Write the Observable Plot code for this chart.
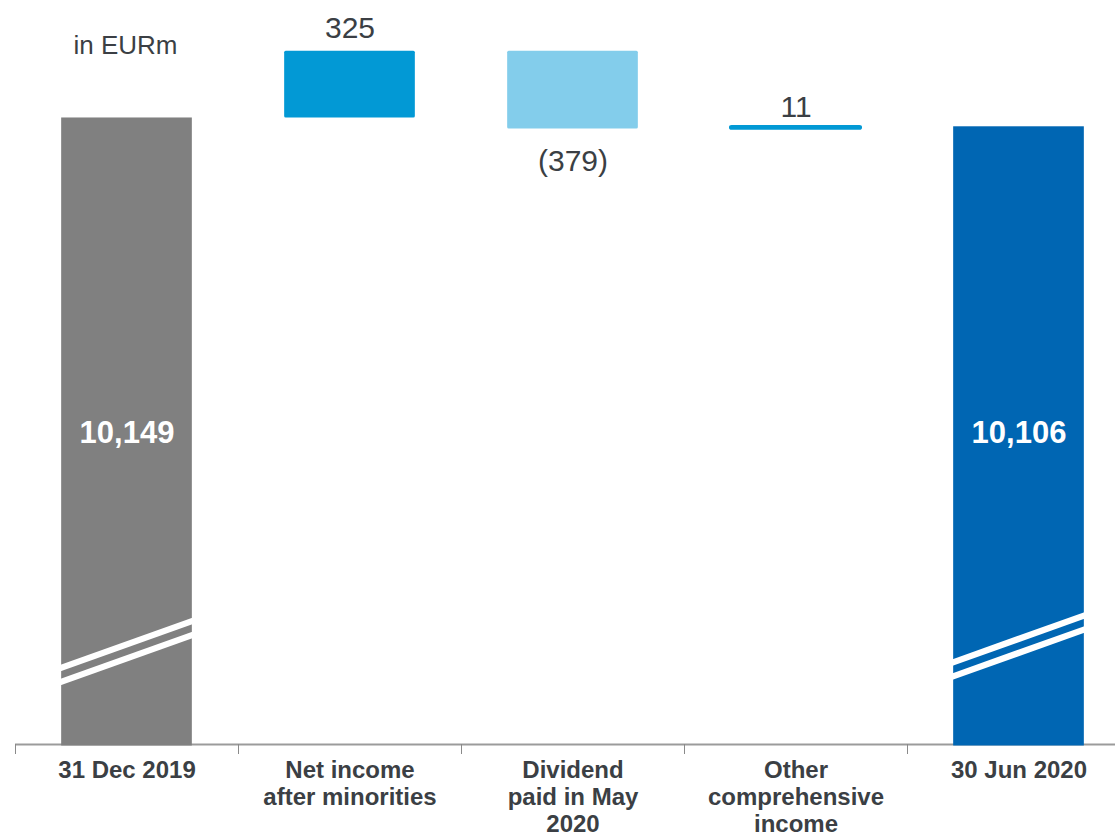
<!DOCTYPE html>
<html>
<head>
<meta charset="utf-8">
<script src="https://cdn.jsdelivr.net/npm/d3@7"></script>
<script src="https://cdn.jsdelivr.net/npm/@observablehq/plot@0.6"></script>
<style>
  html, body { margin: 0; padding: 0; background: #ffffff; }
  #chart svg { display: block; }
</style>
</head>
<body>
<div id="chart"></div>
<script>
// ---- data ----
const categories = ["31 Dec 2019", "Net income\nafter minorities", "Dividend\npaid in May\n2020", "Other\ncomprehensive\nincome", "30 Jun 2020"];
const values = [10149, 325, -379, 11, 10106];
const kinds = ["total", "delta", "delta", "delta", "total"];
const valueLabels = ["10,149", "325", "(379)", "11", "10,106"];
const colors = ["#808080", "#0299d5", "#83cdeb", "#0299d5", "#0066b3"];
const unitLabel = "in EURm";

// ---- waterfall build ----
const axisBase = 7093;   // value at the (broken) baseline
const axisTop = 10722;
let running = 0;
const rows = categories.map((c, i) => {
  let start, end;
  if (kinds[i] === "total") {
    running = values[i];
    start = axisBase; end = values[i];
  } else {
    start = running; end = running + values[i];
    running = end;
  }
  return {i, cat: c, kind: kinds[i], value: values[i], start, end,
          lo: Math.min(start, end), hi: Math.max(start, end),
          label: valueLabels[i], color: colors[i]};
});
const totals = rows.filter(d => d.kind === "total");
const deltas = rows.filter(d => d.kind === "delta");
const hw = 0.293;
const boundaries = d3.range(categories.length + 1).map(k => k - 0.5);
const textColor = "#3b3f44";
const labelMid = (axisBase + rows[0].hi) / 2;

// axis-break stripes drawn over the total bars
function breakMarks(index, scales) {
  const g = d3.create("svg:g");
  const offsets = {0: 76, 4: 81.5};
  totals.forEach(d => {
    const L = scales.x(d.i - hw), R = scales.x(d.i + hw);
    const yb = scales.y(axisBase);
    for (const off of [0, 14]) {
      const yl = yb - offsets[d.i] + off;
      const yr = yl - 0.36 * (R - L);
      g.append("polygon")
        .attr("points", `${L - 0.5},${yl - 3.3} ${R + 0.5},${yr - 3.3} ${R + 0.5},${yr + 3.3} ${L - 0.5},${yl + 3.3}`)
        .attr("fill", "#ffffff");
    }
  });
  return g.node();
}

const chart = Plot.plot({
  width: 1115,
  height: 837,
  marginTop: 0,
  marginLeft: 15,
  marginRight: 0,
  marginBottom: 93,
  style: {fontFamily: "'Liberation Sans', Arial, sans-serif", background: "#ffffff"},
  x: {type: "linear", domain: [-0.5, categories.length - 0.5], range: [15, 15 + 223 * categories.length], axis: null, label: null},
  y: {domain: [axisBase, axisTop], axis: null, label: null},
  marks: [
    Plot.ruleY([axisBase], {stroke: "#9b9b9b", strokeWidth: 2}),
    Plot.axisX({ticks: boundaries, tickSize: 10, tickFormat: () => "", label: null, stroke: "#8a8a8a", strokeWidth: 1}),
    // total bars
    Plot.rect(totals, {x1: d => d.i - hw, x2: d => d.i + hw, y1: "lo", y2: "hi", fill: "color", insetBottom: -1.5}),
    breakMarks,
    // delta bars
    Plot.rect(deltas, {x1: d => d.i - hw, x2: d => d.i + hw, y1: "lo", y2: "hi", fill: "color",
      stroke: "color", strokeWidth: d => Math.abs(d.value) < 50 ? 2.4 : 0, rx: 1.5}),
    // value labels inside totals
    Plot.text(totals, {x: "i", y: () => labelMid, text: "label", fill: "#ffffff",
      fontSize: 31, fontWeight: "bold", lineAnchor: "middle", dy: 2}),
    // value labels for deltas
    Plot.text(deltas.filter(d => d.value >= 0 && Math.abs(d.value) >= 50), {x: "i", y: "hi", text: "label", fill: textColor,
      fontSize: 30, lineAnchor: "bottom", dy: -13}),
    Plot.text(deltas.filter(d => d.value >= 0 && Math.abs(d.value) < 50), {x: "i", y: "hi", text: "label", fill: textColor,
      fontSize: 30, lineAnchor: "bottom", dy: -10}),
    Plot.text(deltas.filter(d => d.value < 0), {x: "i", y: "lo", text: "label", fill: textColor,
      fontSize: 30, lineAnchor: "bottom", dy: 42}),
    // category labels
    Plot.text(rows, {x: "i", y: () => axisBase, text: "cat", fill: textColor, fontSize: 24, fontWeight: "bold",
      lineAnchor: "top", lineHeight: 27 / 24, dy: 14}),
    // unit label
    Plot.text([unitLabel], {x: () => 0, frameAnchor: "top", text: d => d, fill: textColor, fontSize: 26,
      lineAnchor: "bottom", dy: 53, dx: -1.5})
  ]
});
document.getElementById("chart").appendChild(chart);
</script>
</body>
</html>
